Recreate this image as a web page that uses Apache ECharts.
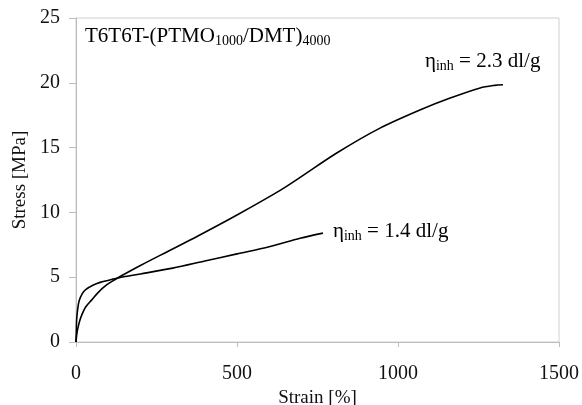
<!DOCTYPE html>
<html>
<head>
<meta charset="utf-8">
<script src="https://cdn.jsdelivr.net/npm/echarts@6/dist/echarts.min.js"></script>
<style>html,body{margin:0;padding:0;background:#fff;}#c{width:582px;height:405px;}</style>
</head>
<body>
<div id="c"></div>
<script>
// Curve with inherent viscosity 2.3 dl/g
var strainA = [0, 3, 8, 15, 30, 49, 70, 95, 120, 137, 200, 282, 380, 500, 634, 696, 811, 944, 1068, 1160, 1255, 1300, 1326];
var stressA = [0, 0.7, 1.3, 1.9, 2.7, 3.25, 3.85, 4.4, 4.8, 5.05, 5.9, 6.95, 8.2, 9.8, 11.7, 12.7, 14.6, 16.5, 17.9, 18.8, 19.6, 19.8, 19.85];
// Curve with inherent viscosity 1.4 dl/g
var strainB = [0, 1, 2, 5, 10, 20, 30, 54, 75, 95, 137, 200, 300, 400, 500, 600, 696, 767];
var stressB = [0, 0.8, 1.7, 2.5, 3.2, 3.75, 4.05, 4.4, 4.6, 4.73, 4.98, 5.25, 5.7, 6.25, 6.8, 7.35, 8.0, 8.4];
var xTicks = [0, 500, 1000, 1500];
var yTicks = [0, 5, 10, 15, 20, 25];

function pairs(xs, ys) { return xs.map(function (x, i) { return [x, ys[i]]; }); }

var FONT = 'Liberation Serif';
var chart = echarts.init(document.getElementById('c'), null, { renderer: 'canvas' });
var richBase = {
  t: { fontFamily: FONT, fontSize: 21, color: '#111', lineHeight: 24 },
  s: { fontFamily: FONT, fontSize: 14, color: '#111', lineHeight: 9, verticalAlign: 'bottom' }
};
chart.setOption({
  animation: false,
  backgroundColor: '#fff',
  grid: { left: 76, right: 23, top: 18, bottom: 63, show: true, borderColor: '#cfcfcf', borderWidth: 1,
          containLabel: false, outerBoundsMode: 'none' },
  xAxis: {
    type: 'value', min: xTicks[0], max: xTicks[xTicks.length - 1], interval: 500,
    name: 'Strain [%]', nameLocation: 'middle', nameGap: 44,
    nameTextStyle: { fontFamily: FONT, fontSize: 19, color: '#111' },
    axisLine: { show: true, lineStyle: { color: '#bdbdbd', width: 1 } },
    axisTick: { show: true, inside: false, length: 5, lineStyle: { color: '#bdbdbd' } },
    axisLabel: { fontFamily: FONT, fontSize: 20, color: '#111', margin: 22,
                 formatter: function (v) { return String(v); } },
    splitLine: { show: false }
  },
  yAxis: {
    type: 'value', min: yTicks[0], max: yTicks[yTicks.length - 1], interval: 5,
    name: 'Stress [MPa]', nameLocation: 'middle', nameGap: 44,
    nameTextStyle: { fontFamily: FONT, fontSize: 19, color: '#111' },
    axisLine: { show: true, lineStyle: { color: '#bdbdbd', width: 1 } },
    axisTick: { show: true, inside: false, length: 7, lineStyle: { color: '#bdbdbd' } },
    axisLabel: { fontFamily: FONT, fontSize: 20, color: '#111', margin: 16 },
    splitLine: { show: false }
  },
  series: [
    { name: '2.3', type: 'line', data: pairs(strainA, stressA), showSymbol: false, smooth: 0.3,
      lineStyle: { color: '#000', width: 1.6 } },
    { name: '1.4', type: 'line', data: pairs(strainB, stressB), showSymbol: false, smooth: 0.3,
      lineStyle: { color: '#000', width: 1.6 } }
  ],
  graphic: [
    { type: 'text', left: 85, top: 26, style: { text: '{t|T6T6T-(PTMO}{s|1000}{t|/DMT)}{s|4000}', rich: richBase } },
    { type: 'text', left: 425, top: 51, style: { text: '{t|η}{s|inh}{t| = 2.3 dl/g}', rich: richBase } },
    { type: 'text', left: 333, top: 221, style: { text: '{t|η}{s|inh}{t| = 1.4 dl/g}', rich: richBase } }
  ]
});
</script>
</body>
</html>
